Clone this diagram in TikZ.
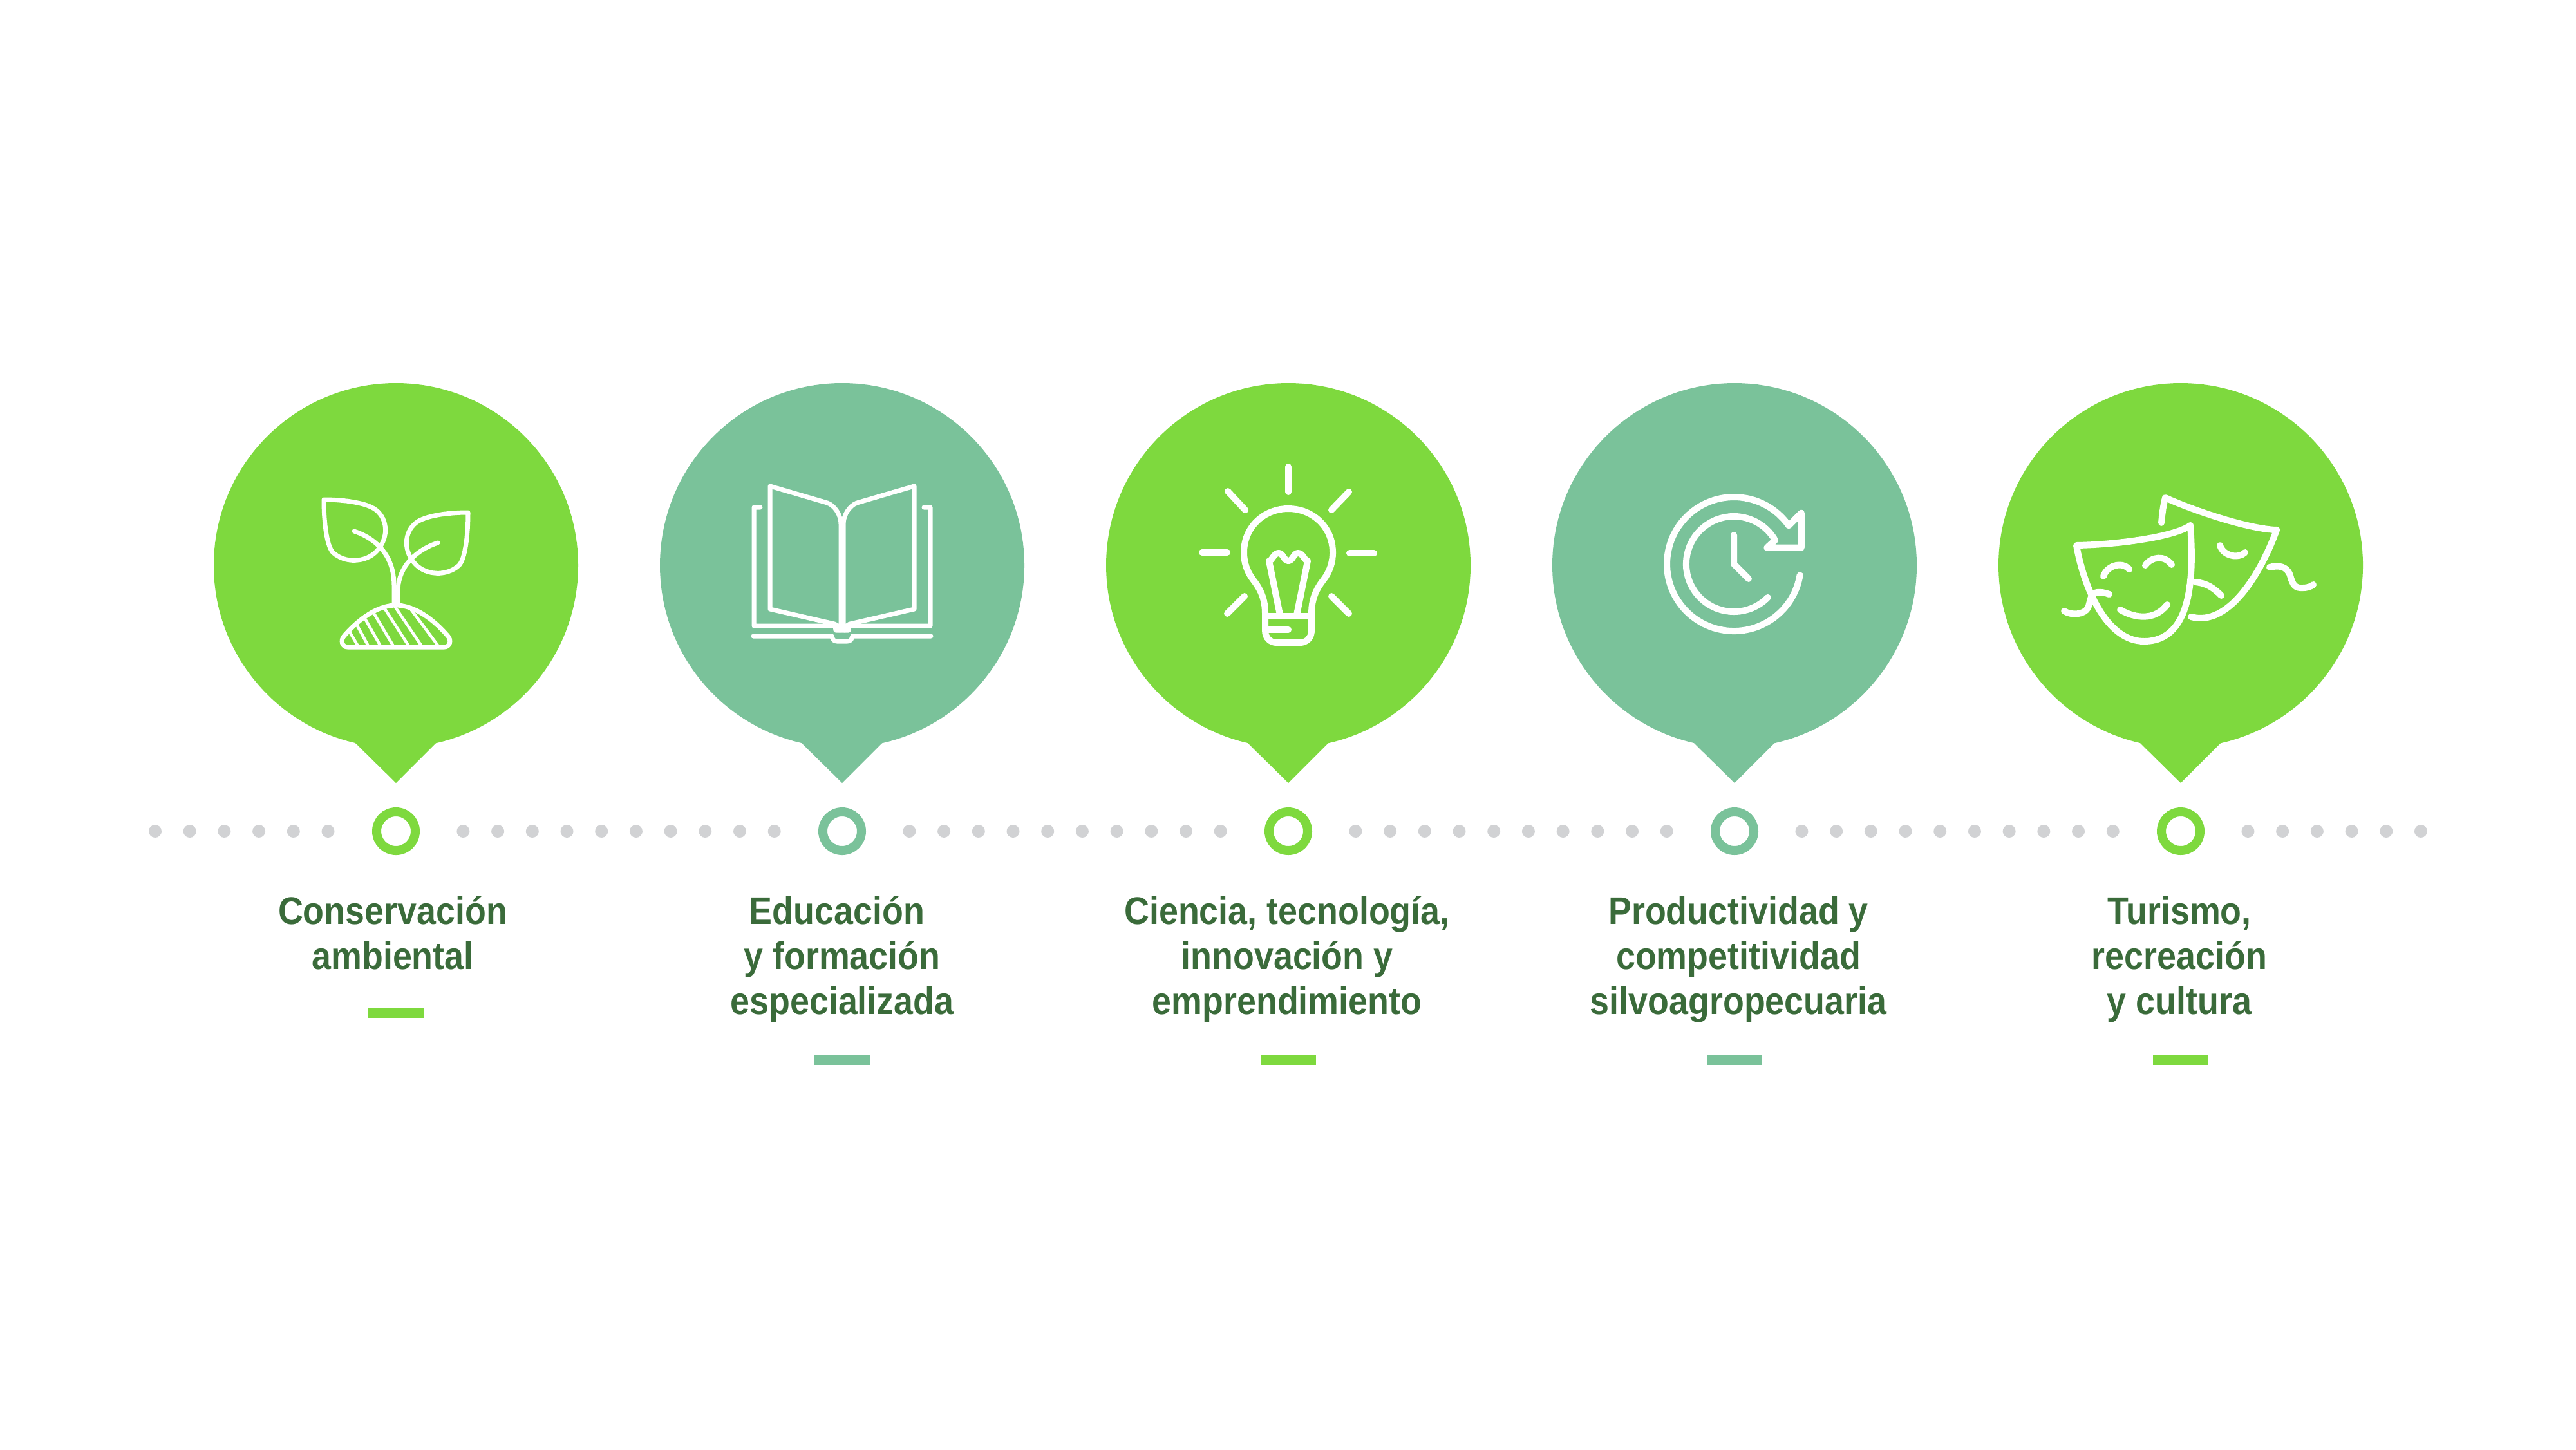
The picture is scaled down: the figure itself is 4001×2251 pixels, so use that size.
\documentclass[tikz,border=0pt]{standalone}
\usepackage{fontspec}
\setmainfont[FakeStretch=.9]{Liberation Sans}
\definecolor{brightgreen}{HTML}{7ED93E}
\definecolor{softgreen}{HTML}{7AC29A}
\definecolor{darkgreen}{HTML}{3A6B3A}
\definecolor{dotgray}{HTML}{D1D2D4}
\tikzset{
    icon/.style={draw=white, line width=.1cm, line cap=round, line join=round},
    thinicon/.style={icon, line width=.07cm},
    hatchline/.style={icon, line width=.045cm},
    caption/.style={text=darkgreen, align=center, anchor=north, inner sep=0pt,
        font=\fontsize{17}{19.9}\selectfont\bfseries},
}

\begin{document}
\begin{tikzpicture}[x=.01cm, y=-.01cm]
    \useasboundingbox(0, 0)rectangle(4001, 2251);
    \foreach \cx/\col in {615/brightgreen, 1308/softgreen, 2001/brightgreen, 2694/softgreen, 3387/brightgreen}{
        \fill[\col](\cx, 878)circle(283);
        \fill[\col](\cx-63, 1154)--(\cx, 1216)--(\cx+62, 1154)--cycle;
        \draw[\col, line width=.14cm, fill=white](\cx, 1291)circle(30);
    }
    \foreach \dx in {0, ..., 5}{
        \fill[dotgray](241+53.7*\dx, 1291)circle(10);
        \fill[dotgray](3491.4+53.7*\dx, 1291)circle(10);
    }
    \foreach \gx in {719.4, 1412.4, 2105.4, 2798.4}{
        \foreach \dx in {0, ..., 9}{
            \fill[dotgray](\gx+53.7*\dx, 1291)circle(10);
        }
    }
    \fill[brightgreen](572, 1565)rectangle(658, 1581);
    \fill[softgreen](1265, 1638)rectangle(1351, 1654);
    \fill[brightgreen](1958, 1638)rectangle(2044, 1654);
    \fill[softgreen](2651, 1638)rectangle(2737, 1654);
    \fill[brightgreen](3344, 1638)rectangle(3430, 1654);

    \node[caption](conservacion) at(610, 1391){Conservación\\ambiental};
    \node[caption](educacion) at(1308, 1391){Educación\hspace*{.16cm}\\y formación\\especializada};
    \node[caption](ciencia) at(1999, 1391){Ciencia, tecnología,\\innovación y\\emprendimiento};
    \node[caption](productividad) at(2700, 1391){Productividad y\\competitividad\\silvoagropecuaria};
    \node[caption](turismo) at(3385, 1391){Turismo,\\recreación\\y cultura};

    \begin{scope}[shift={(615, 879)}]
        \draw[thinicon](-112, -103).. controls (-80, -103) and (-45, -98) ..(-31, -87).. controls (-12, -72) and (-11, -42) ..(-31, -22).. controls (-47, -6) and (-78, -3) ..(-98, -21).. controls (-108, -32) and (-112, -70) ..cycle;
        \draw[thinicon](112, -83).. controls (80, -83) and (45, -78) ..(31, -67).. controls (12, -52) and (11, -22) ..(31, -2).. controls (47, 14) and (78, 17) ..(98, -1).. controls (108, -12) and (112, -50) ..cycle;
        \draw[thinicon](-65, -54).. controls (-35, -44) and (-3, -20) ..(-3, 30)--(-3, 58);
        \draw[thinicon](65, -36).. controls (35, -26) and (3, -2) ..(3, 40)--(3, 58);
        \draw[thinicon](-75, 126)--(75, 126).. controls (84, 126) and (87, 115) ..(80, 108).. controls (60, 85) and (30, 61) ..(0, 61).. controls (-30, 61) and (-60, 85) ..(-80, 108).. controls (-87, 115) and (-84, 126) ..cycle;
        \foreach \tx/\ty/\bx in {-71/104/-58, -60/93/-42, -48/82/-23, -34/74/-3, -17/67/21, -1/64/41, 23/67/67}{
            \draw[hatchline](\tx, \ty)--(\bx, 126);
        }
    \end{scope}

    \begin{scope}[shift={(1308, 879)}]
        \draw[thinicon](-2, 95)--(-2, -65).. controls (-2, -80) and (-12, -94) ..(-23, -98)--(-112, -124)--(-112, 67)--(-12, 90).. controls (-8, 91) and (-5, 95) ..(-4, 100);
        \draw[thinicon](2, 95)--(2, -65).. controls (2, -80) and (12, -94) ..(23, -98)--(112, -124)--(112, 67)--(12, 90).. controls (8, 91) and (5, 95) ..(4, 100);
        \draw[thinicon](-127, -91)--(-137, -91)--(-137, 93)--(-11, 93)--(-10, 100)--(10, 100)--(11, 93)--(137, 93)--(137, -91)--(127, -91);
        \draw[thinicon](-138, 109)--(-16, 109).. controls (-15, 114) and (-13, 117) ..(-8, 117)--(8, 117).. controls (13, 117) and (15, 114) ..(16, 109)--(138, 109);
    \end{scope}

    \begin{scope}[shift={(2001, 879)}]
        \draw[icon](0, -154)--(0, -115);
        \draw[icon](-94, -116)--(-67, -87);
        \draw[icon](94, -115)--(67, -87);
        \draw[icon](-134, -21)--(-95, -21);
        \draw[icon](95, -20)--(133, -20);
        \draw[icon](-68, 47)--(-95, 74);
        \draw[icon](67, 47)--(94, 74);
        \draw[icon](-36, 74).. controls (-36, 50) and (-44, 35) ..(-55, 21).. controls (-64, 9) and (-69, -5) ..(-69, -21).. controls (-69, -60) and (-38, -89) ..(0, -89).. controls (38, -89) and (69, -60) ..(69, -21).. controls (69, -5) and (64, 9) ..(55, 21).. controls (44, 35) and (36, 50) ..(36, 74)--(36, 100).. controls (36, 112) and (28, 119) ..(18, 119)--(-18, 119).. controls (-28, 119) and (-36, 112) ..(-36, 100)--cycle;
        \draw[icon](-36, 78)--(36, 78);
        \draw[icon](-36, 99)--(0, 99);
        \draw[icon](-13, 76)--(-30, -8).. controls (-25, -8) and (-23, -20) ..(-15, -20).. controls (-8, -20) and (-7, -8) ..(0, -8).. controls (7, -8) and (8, -20) ..(15, -20).. controls (23, -20) and (25, -8) ..(30, -8)--(13, 76);
    \end{scope}

    \begin{scope}[shift={(2694, 879)}]
        \draw[icon](101.6, 14.2)arc[start angle=9.5, end angle=325, radius=104]--(103.7, -82.3)--(103.7, -28.3)--(50.3, -28.3)--(63, -40)arc[start angle=-30, end angle=-315.5, radius=74];
        \draw[icon](-1, -48)--(-1, -3)--(22, 20);
    \end{scope}

    \begin{scope}[shift={(3387, 879)}]
        \draw[icon](-162, -32).. controls (-100, -33) and (-10, -45) ..(15, -63).. controls (20, 10) and (20, 117) ..(-57, 117).. controls (-115, 117) and (-150, 35) ..cycle;
        \draw[icon](-120, 16).. controls (-115, 0) and (-92, -8) ..(-80, 5);
        \draw[icon](-55, -1).. controls (-45, -15) and (-25, -17) ..(-14, -2);
        \draw[icon](-94, 68).. controls (-70, 82) and (-40, 85) ..(-21, 60);
        \draw[icon](-181, 70).. controls (-170, 77) and (-150, 76) ..(-144, 65).. controls (-140, 55) and (-141, 42) ..(-130, 41).. controls (-124, 40) and (-116, 42) ..(-111, 44);
        \draw[icon](-30, -67).. controls (-29, -80) and (-27, -95) ..(-24, -106).. controls (30, -82) and (110, -57) ..(149, -56).. controls (125, 10) and (75, 95) ..(16, 79);
        \draw[icon](61, -32).. controls (66, -15) and (90, -11) ..(100, -21);
        \draw[icon](23, 25).. controls (40, 27) and (50, 33) ..(63, 46);
        \draw[icon](138, 2).. controls (150, -1) and (165, -1) ..(170, 15).. controls (174, 30) and (178, 35) ..(190, 34).. controls (197, 34) and (202, 32) ..(206, 29);
    \end{scope}
\end{tikzpicture}
\end{document}
